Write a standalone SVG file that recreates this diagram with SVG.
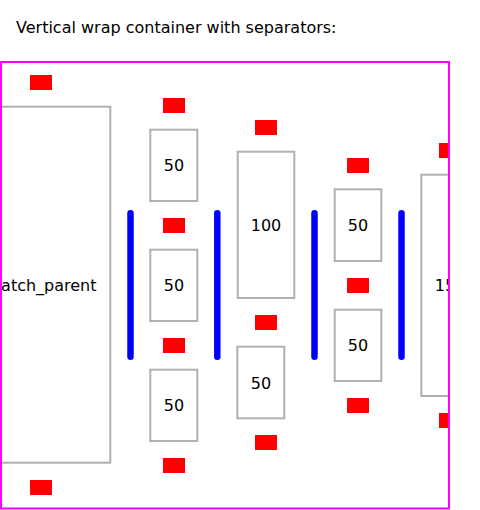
<svg xmlns="http://www.w3.org/2000/svg" width="480" height="510" viewBox="0 0 480 510">
  <style>
    .title { font-family: "DejaVu Sans", sans-serif; font-size: 16px; fill: #000; }
    .lbl { font-family: "DejaVu Sans", sans-serif; font-size: 16px; fill: #000; text-anchor: middle; }
    .box { fill: #fff; stroke: #b0b0b0; stroke-width: 2; }
    .mark { fill: #ff0000; }
    .sep { stroke: #0000ff; stroke-width: 6.5; stroke-linecap: round; fill: none; }
    .frame { fill: none; stroke: #ff00ff; stroke-width: 2; }
  </style>
  <defs>
    <clipPath id="inner">
      <rect x="0" y="62" width="448" height="446"/>
    </clipPath>
  </defs>
  <rect x="0" y="0" width="480" height="510" fill="#fff"/>
  <text class="title" x="16" y="33">Vertical wrap container with separators:</text>

  <g clip-path="url(#inner)">
    <g id="col1">
      <rect class="mark" x="30" y="75" width="22" height="15"/>
      <g id="node-match-parent">
        <rect class="box" x="-28" y="106.7" width="138.3" height="356"/>
        <text class="lbl" x="41" y="290.5">match_parent</text>
      </g>
      <rect class="mark" x="30" y="480" width="22" height="15"/>
    </g>

    <g id="col2">
      <rect class="mark" x="163" y="98" width="22" height="15"/>
      <g id="node-c2-1">
        <rect class="box" x="150.3" y="129.7" width="47" height="71.3"/>
        <text class="lbl" x="174" y="171.3">50</text>
      </g>
      <rect class="mark" x="163" y="218" width="22" height="15"/>
      <g id="node-c2-2">
        <rect class="box" x="150.3" y="249.7" width="47" height="71.3"/>
        <text class="lbl" x="174" y="291.3">50</text>
      </g>
      <rect class="mark" x="163" y="338" width="22" height="15"/>
      <g id="node-c2-3">
        <rect class="box" x="150.3" y="369.7" width="47" height="71.3"/>
        <text class="lbl" x="174" y="411.3">50</text>
      </g>
      <rect class="mark" x="163" y="458" width="22" height="15"/>
    </g>

    <g id="col3">
      <rect class="mark" x="255" y="120" width="22" height="15"/>
      <g id="node-c3-1">
        <rect class="box" x="237.7" y="151.7" width="56.6" height="146.3"/>
        <text class="lbl" x="266" y="230.8">100</text>
      </g>
      <rect class="mark" x="255" y="315" width="22" height="15"/>
      <g id="node-c3-2">
        <rect class="box" x="237.3" y="346.7" width="47" height="71.6"/>
        <text class="lbl" x="261" y="388.5">50</text>
      </g>
      <rect class="mark" x="255" y="435" width="22" height="15"/>
    </g>

    <g id="col4">
      <rect class="mark" x="347" y="158" width="22" height="15"/>
      <g id="node-c4-1">
        <rect class="box" x="334.7" y="189.3" width="46.6" height="71.7"/>
        <text class="lbl" x="358" y="231">50</text>
      </g>
      <rect class="mark" x="347" y="278" width="22" height="15"/>
      <g id="node-c4-2">
        <rect class="box" x="334.7" y="309.7" width="46.6" height="71.3"/>
        <text class="lbl" x="358" y="351.3">50</text>
      </g>
      <rect class="mark" x="347" y="398" width="22" height="15"/>
    </g>

    <g id="col5">
      <rect class="mark" x="439" y="143" width="22" height="15"/>
      <g id="node-c5-1">
        <rect class="box" x="421.3" y="174.7" width="57.4" height="221.3"/>
        <text class="lbl" x="450" y="291.3">150</text>
      </g>
      <rect class="mark" x="439" y="413" width="22" height="15"/>
    </g>

    <g id="separators">
      <line class="sep" x1="130.5" y1="213.3" x2="130.5" y2="356.7"/>
      <line class="sep" x1="217.3" y1="213.3" x2="217.3" y2="356.7"/>
      <line class="sep" x1="314.5" y1="213.3" x2="314.5" y2="356.7"/>
      <line class="sep" x1="401.5" y1="213.3" x2="401.5" y2="356.7"/>
    </g>
  </g>

  <rect id="container" class="frame" x="1" y="62" width="448" height="446.5"/>
</svg>
